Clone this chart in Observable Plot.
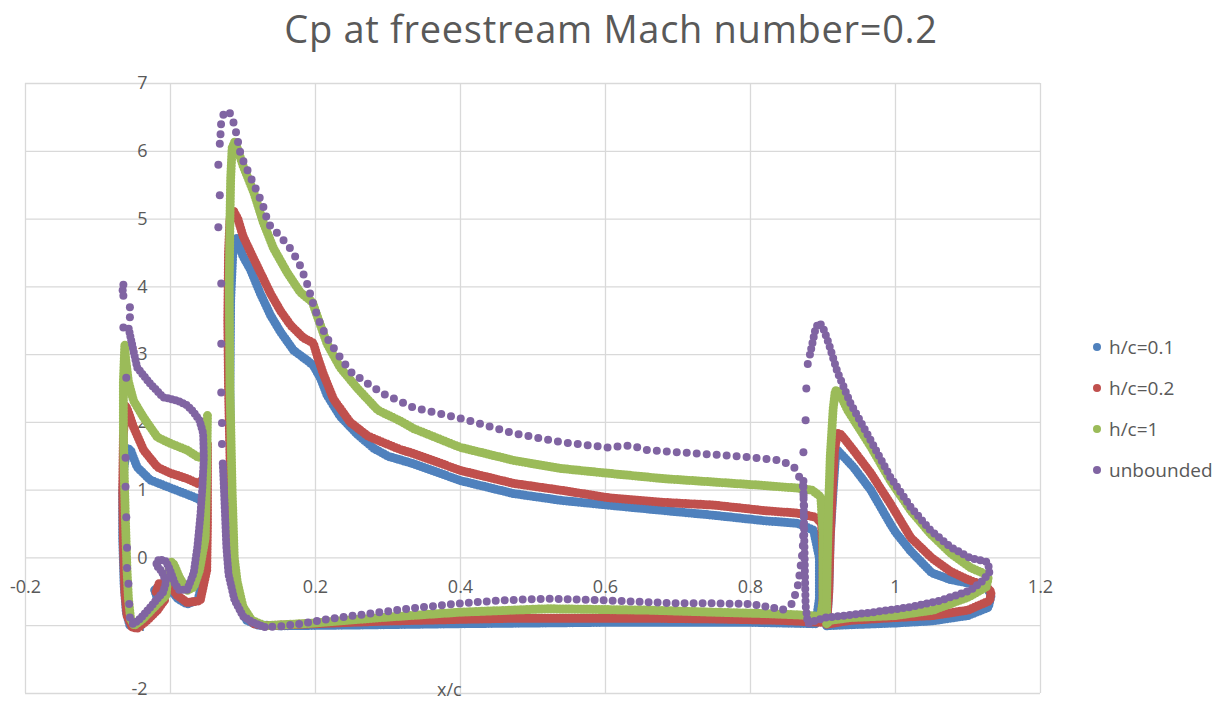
<!DOCTYPE html>
<html>
<head>
<meta charset="utf-8">
<script src="https://cdn.jsdelivr.net/npm/d3@7"></script>
<script src="https://cdn.jsdelivr.net/npm/@observablehq/plot@0.6"></script>
<style>
  html, body { margin: 0; padding: 0; background: #fff; }
  #wrap { position: relative; width: 1222px; height: 701px; overflow: hidden; font-family: "Open Sans", sans-serif; color: #595959; }
  #chart { position: absolute; left: 0; top: 0; }
  #title { position: absolute; left: 0; top: 2px; width: 1222px; text-align: center; font-size: 38px; letter-spacing: 0.7px; line-height: 52px; color: #595959; }
  #xlabel { position: absolute; left: 437px; top: 677px; font-size: 18px; line-height: 24px; color: #595959; }
  #legend { position: absolute; left: 1090px; top: 326px; font-size: 19px; color: #595959; }
  .li { display: flex; align-items: center; height: 41px; }
  .sw { width: 8px; height: 8px; border-radius: 50%; margin-right: 8px; margin-left: 3px; }
</style>
</head>
<body>
<div id="wrap">
  <div id="chart"></div>
  <div id="title">Cp at freestream Mach number=0.2</div>
  <div id="xlabel">x/c</div>
  <div id="legend"></div>
</div>
<script>
// ---------- data (x/c, Cp) ----------
const seriesNames = ["h/c=0.1", "h/c=0.2", "h/c=1", "unbounded"];
const xTicks = [-0.2, 0, 0.2, 0.4, 0.6, 0.8, 1, 1.2];
const yTicks = [-2, -1, 0, 1, 2, 3, 4, 5, 6, 7];

// h/c = 0.1
const blueSlat = [[0.042,0.85],[0.032,0.9],[0.015,0.97],[-0.004,1.05],[-0.028,1.15],[-0.046,1.34],[-0.055,1.59],[-0.06,1.62],[-0.064,1.35],[-0.066,0.95],[-0.066,0.3],[-0.064,-0.4],[-0.061,-0.8],[-0.056,-1.0],[-0.045,-0.98],[-0.03,-0.87],[-0.015,-0.7],[-0.022,-0.47],[-0.012,-0.4],[0.0,-0.47],[0.01,-0.6],[0.023,-0.68],[0.038,-0.62],[0.045,-0.3],[0.047,0.3],[0.046,0.7],[0.042,0.85]];
const blueMain = [[0.89,-0.97],[0.8,-0.95],[0.6,-0.95],[0.4,-0.97],[0.25,-0.99],[0.15,-1.0],[0.12,-0.99],[0.105,-0.92],[0.095,-0.7],[0.088,-0.35],[0.085,0.0],[0.083,1.0],[0.082,2.5],[0.083,3.8],[0.086,4.5],[0.091,4.73],[0.1,4.45],[0.11,4.26],[0.124,3.9],[0.138,3.58],[0.152,3.33],[0.17,3.06],[0.189,2.91],[0.197,2.84],[0.207,2.65],[0.216,2.4],[0.234,2.09],[0.258,1.82],[0.28,1.62],[0.3,1.5],[0.335,1.39],[0.4,1.14],[0.473,0.95],[0.538,0.85],[0.603,0.78],[0.68,0.7],[0.749,0.63],[0.818,0.55],[0.865,0.51],[0.887,0.41],[0.895,0.0],[0.895,-0.6],[0.89,-0.97]];
const blueFlap = [[0.905,-1.0],[0.908,-0.5],[0.91,0.3],[0.914,1.0],[0.917,1.45],[0.92,1.59],[0.942,1.34],[0.966,1.0],[0.993,0.5],[1.0,0.38],[1.021,0.1],[1.05,-0.22],[1.076,-0.32],[1.1,-0.37],[1.125,-0.42],[1.132,-0.55],[1.128,-0.73],[1.1,-0.85],[1.05,-0.93],[1.0,-0.96],[0.95,-0.98],[0.905,-1.0]];

// h/c = 0.2
const redSlat = [[0.037,1.1],[0.023,1.17],[0.0,1.25],[-0.018,1.34],[-0.037,1.59],[-0.051,1.93],[-0.058,2.15],[-0.062,2.25],[-0.065,1.8],[-0.066,1.0],[-0.065,0.2],[-0.063,-0.5],[-0.06,-0.85],[-0.053,-1.02],[-0.046,-1.04],[-0.032,-0.92],[-0.018,-0.77],[-0.008,-0.62],[-0.02,-0.5],[-0.016,-0.38],[-0.004,-0.37],[0.009,-0.55],[0.023,-0.66],[0.041,-0.63],[0.05,-0.18],[0.051,0.5],[0.051,1.2],[0.051,1.7],[0.045,1.15],[0.037,1.1]];
const redMain = [[0.897,-0.95],[0.84,-0.92],[0.75,-0.9],[0.66,-0.89],[0.47,-0.89],[0.3,-0.93],[0.2,-0.97],[0.13,-1.0],[0.115,-0.97],[0.1,-0.8],[0.092,-0.5],[0.088,-0.2],[0.085,0.5],[0.082,1.5],[0.08,2.5],[0.079,3.5],[0.08,4.5],[0.082,5.0],[0.087,5.12],[0.093,5.0],[0.1,4.75],[0.11,4.52],[0.124,4.21],[0.138,3.9],[0.152,3.64],[0.166,3.43],[0.183,3.25],[0.197,3.17],[0.203,2.96],[0.211,2.71],[0.225,2.34],[0.248,2.0],[0.272,1.8],[0.294,1.7],[0.317,1.6],[0.335,1.54],[0.4,1.29],[0.473,1.1],[0.538,1.0],[0.603,0.89],[0.68,0.82],[0.749,0.78],[0.818,0.7],[0.865,0.66],[0.89,0.6],[0.898,0.51],[0.9,0.0],[0.9,-0.6],[0.897,-0.95]];
const redFlap = [[0.905,-0.98],[0.908,-0.5],[0.91,0.3],[0.913,1.0],[0.916,1.6],[0.92,1.84],[0.925,1.82],[0.942,1.59],[0.966,1.25],[0.993,0.8],[1.021,0.3],[1.05,0.0],[1.076,-0.2],[1.1,-0.32],[1.125,-0.42],[1.132,-0.5],[1.13,-0.63],[1.1,-0.77],[1.052,-0.85],[1.0,-0.88],[0.938,-0.92],[0.91,-0.97],[0.905,-0.98]];

// h/c = 1
const greenSlat = [[0.051,2.1],[0.05,1.6],[0.044,1.5],[0.039,1.48],[0.023,1.59],[0.0,1.69],[-0.018,1.78],[-0.037,2.07],[-0.051,2.32],[-0.058,2.6],[-0.062,2.95],[-0.063,3.15],[-0.065,2.6],[-0.065,1.9],[-0.064,1.3],[-0.062,0.5],[-0.06,-0.18],[-0.058,-0.6],[-0.055,-0.9],[-0.05,-1.0],[-0.038,-0.9],[-0.02,-0.7],[-0.006,-0.55],[-0.004,-0.3],[0.0,-0.05],[0.005,-0.1],[0.012,-0.28],[0.023,-0.48],[0.032,-0.43],[0.04,-0.18],[0.048,0.3],[0.05,1.3],[0.051,2.1]];
const greenMain = [[0.897,-0.86],[0.865,-0.84],[0.818,-0.82],[0.749,-0.8],[0.658,-0.77],[0.52,-0.75],[0.4,-0.8],[0.29,-0.88],[0.2,-0.96],[0.13,-1.0],[0.112,-0.92],[0.1,-0.72],[0.092,-0.35],[0.088,0.0],[0.085,1.0],[0.082,2.5],[0.081,4.0],[0.082,5.0],[0.083,5.6],[0.085,6.05],[0.089,6.15],[0.1,5.79],[0.115,5.39],[0.128,4.95],[0.142,4.57],[0.161,4.21],[0.179,3.92],[0.196,3.77],[0.2,3.64],[0.209,3.37],[0.216,3.16],[0.234,2.81],[0.258,2.5],[0.286,2.18],[0.317,2.02],[0.335,1.91],[0.4,1.63],[0.473,1.44],[0.538,1.32],[0.603,1.25],[0.68,1.17],[0.749,1.12],[0.818,1.07],[0.865,1.03],[0.885,1.0],[0.897,0.9],[0.9,0.36],[0.9,-0.63],[0.897,-0.86]];
const greenFlap = [[0.905,-0.97],[0.905,-0.6],[0.906,0.0],[0.908,0.85],[0.91,1.5],[0.912,1.84],[0.914,2.2],[0.917,2.47],[0.922,2.45],[0.934,2.18],[0.966,1.64],[0.993,1.14],[1.021,0.7],[1.048,0.36],[1.076,0.07],[1.103,-0.14],[1.122,-0.23],[1.128,-0.3],[1.125,-0.43],[1.1,-0.58],[1.052,-0.77],[1.0,-0.85],[0.938,-0.88],[0.91,-0.92],[0.905,-0.97]];

// unbounded
const purpleSlat = [[-0.052,-0.97],[-0.045,-0.93],[-0.038,-0.85],[-0.028,-0.73],[-0.018,-0.6],[-0.01,-0.5],[-0.006,-0.35],[-0.012,-0.2],[-0.02,-0.1],[-0.016,-0.02],[-0.006,-0.05],[0.0,-0.2],[0.006,-0.38],[0.012,-0.47],[0.023,-0.47],[0.032,-0.22],[0.037,0.16],[0.041,0.6],[0.044,1.04],[0.046,1.48],[0.045,1.84],[0.04,2.03],[0.032,2.15],[0.023,2.25],[0.01,2.32],[-0.01,2.37],[-0.028,2.57],[-0.046,2.81],[-0.055,3.25],[-0.058,3.4]];
const purpleSlatSparse = [[-0.065,4.03],[-0.066,3.95],[-0.065,3.87],[-0.056,3.7],[-0.056,3.55],[-0.065,3.4],[-0.061,2.66],[-0.062,1.48],[-0.062,1.05],[-0.061,0.6],[-0.06,0.15],[-0.06,-0.15],[-0.058,-0.38],[-0.057,-0.68],[-0.056,-0.88]];
const purpleMainLower = [[0.845,-0.76],[0.8,-0.68],[0.75,-0.67],[0.7,-0.67],[0.61,-0.63],[0.52,-0.6],[0.45,-0.63],[0.4,-0.67],[0.335,-0.74],[0.29,-0.8],[0.225,-0.89],[0.18,-0.97],[0.15,-1.01],[0.13,-1.02]];
const purpleMainLE = [[0.13,-1.02],[0.115,-0.96],[0.1,-0.86],[0.088,-0.61],[0.08,-0.24],[0.077,0.17],[0.075,0.69],[0.073,1.2],[0.072,1.41]];
const purpleMainLESparse = [[0.071,1.68],[0.071,1.99],[0.07,2.44],[0.07,3.16],[0.07,4.05],[0.066,4.88],[0.068,5.35],[0.066,5.8],[0.068,6.11]];
const purpleMainUpper = [[0.069,6.25],[0.07,6.45],[0.074,6.57],[0.08,6.6],[0.085,6.5],[0.09,6.3],[0.097,5.94],[0.11,5.63],[0.127,5.22],[0.135,4.93],[0.149,4.77],[0.163,4.6],[0.177,4.36],[0.188,4.06],[0.197,3.74],[0.207,3.44],[0.218,3.21],[0.23,3.02],[0.248,2.75],[0.272,2.57],[0.294,2.42],[0.335,2.22],[0.4,2.06],[0.473,1.84],[0.538,1.71],[0.603,1.63],[0.634,1.66],[0.658,1.59],[0.727,1.54],[0.796,1.49],[0.841,1.44],[0.86,1.34],[0.872,1.1],[0.874,0.8],[0.872,0.11],[0.866,-0.38],[0.858,-0.67],[0.845,-0.76]];
const purpleFlap = [[0.882,3.0],[0.886,3.2],[0.89,3.4],[0.895,3.47],[0.9,3.4],[0.908,3.16],[0.92,2.74],[0.938,2.28],[0.966,1.73],[0.993,1.19],[1.021,0.75],[1.048,0.41],[1.076,0.16],[1.103,0.0],[1.127,-0.06],[1.13,-0.2],[1.121,-0.33],[1.103,-0.48],[1.062,-0.63],[1.017,-0.73],[0.97,-0.8],[0.93,-0.85],[0.903,-0.88],[0.885,-0.94],[0.879,-0.97],[0.876,-0.7],[0.875,-0.2],[0.874,0.4],[0.873,1.0],[0.873,1.2]];
const purpleFlapSparse = [[0.873,1.56],[0.876,2.03],[0.877,2.5],[0.879,2.86]];

const colors = ["#4F81BD", "#C0504D", "#9BBB59", "#8064A2"];

// ---------- marks ----------
const fx = d => d[0], fy = d => d[1];
const band = (data, color, gap, w = 9) => Plot.line(data, {
  x: fx, y: fy, stroke: color, strokeWidth: w,
  strokeLinecap: "round", strokeLinejoin: "round",
  strokeDasharray: `0 ${gap}`
});
const dots = (data, color) => Plot.dot(data, {x: fx, y: fy, r: 4, fill: color, stroke: "none"});
const fmt = d => (d < 0 ? "-" + String(-d) : String(d));
const labelStyle = {fill: "#595959", fontSize: 18};

const chart = Plot.plot({
  width: 1222, height: 701,
  marginLeft: 25, marginRight: 182, marginTop: 83, marginBottom: 8,
  x: {domain: [-0.2, 1.2], axis: null},
  y: {domain: [-2, 7], axis: null},
  style: {background: "white", fontFamily: "'Open Sans', sans-serif"},
  marks: [
    Plot.ruleX(xTicks, {x: d => d, stroke: "#d9d9d9", strokeWidth: 1.3}),
    Plot.ruleY(yTicks, {y: d => d, stroke: "#d9d9d9", strokeWidth: 1.3}),
    Plot.text(yTicks.filter(d => d > -2), {x: 0, y: d => d, text: fmt, dx: -23, textAnchor: "end", ...labelStyle}),
    Plot.text(yTicks.filter(d => d === -2), {x: 0, y: d => d, text: fmt, dx: -23, dy: -4, textAnchor: "end", ...labelStyle}),
    Plot.text(xTicks, {x: d => d, y: 0, text: fmt, dy: 29, ...labelStyle}),
    band(blueSlat, colors[0], 3), band(blueMain, colors[0], 3), band(blueFlap, colors[0], 3),
    band(redSlat, colors[1], 3), band(redMain, colors[1], 3), band(redFlap, colors[1], 3),
    band(greenSlat, colors[2], 3), band(greenMain, colors[2], 3), band(greenFlap, colors[2], 3),
    band(purpleSlat, colors[3], 4, 8), dots(purpleSlatSparse, colors[3]),
    band(purpleMainLower, colors[3], 9, 8), band(purpleMainLE, colors[3], 4, 8),
    dots(purpleMainLESparse, colors[3]), band(purpleMainUpper, colors[3], 10, 8),
    band(purpleFlap, colors[3], 6, 8), dots(purpleFlapSparse, colors[3])
  ]
});
document.getElementById("chart").appendChild(chart);

// ---------- legend ----------
const legend = document.getElementById("legend");
seriesNames.forEach((name, i) => {
  const row = document.createElement("div");
  row.className = "li";
  const sw = document.createElement("span");
  sw.className = "sw";
  sw.style.background = colors[i];
  const t = document.createElement("span");
  t.textContent = name;
  row.appendChild(sw); row.appendChild(t);
  legend.appendChild(row);
});
</script>
</body>
</html>
